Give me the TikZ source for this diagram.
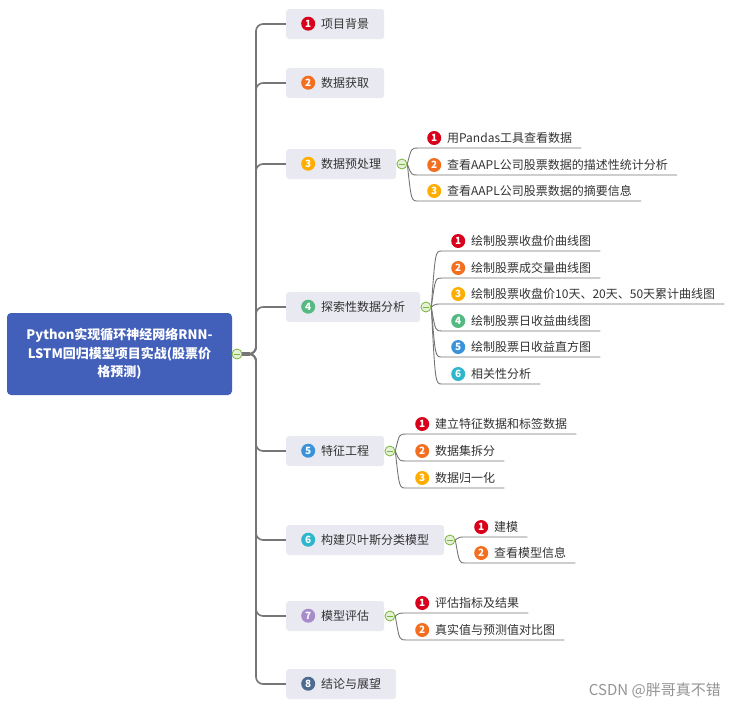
\documentclass[tikz,border=0pt]{standalone}
\usepackage{fontspec}
\setmainfont{Noto Sans CJK SC}
\usetikzlibrary{calc}
\pgfdeclarelayer{background}
\pgfsetlayers{background,main}
\definecolor{rootblue}{HTML}{425FBA}
\definecolor{boxbg}{HTML}{E9E9F2}
\definecolor{linegray}{HTML}{767676}
\definecolor{cgreen}{HTML}{7CB342}
\definecolor{cfill}{HTML}{E3F1D4}
\definecolor{txt}{HTML}{333333}
\definecolor{ba}{HTML}{D9001B}
\definecolor{bb}{HTML}{F36F1F}
\definecolor{bc}{HTML}{FFAD00}
\definecolor{bd}{HTML}{55B982}
\definecolor{be}{HTML}{3A92DA}
\definecolor{bf}{HTML}{2FB6CB}
\definecolor{bg}{HTML}{A78BCB}
\definecolor{bh}{HTML}{4E6A8E}
\newcommand\bdg[2]{\tikz[baseline=-4.3pt]\node[circle,fill=#1,draw=none,text=white,inner sep=0pt,outer sep=0pt,minimum size=14pt,anchor=center,text height=,text depth=,font=\fontsize{10}{10}\selectfont\bfseries]{#2};\hspace{6pt}}
\tikzset{
  mainbox/.style={fill=boxbg, rounded corners=3pt, minimum height=30pt, inner xsep=15pt, inner ysep=0pt, anchor=west, text height=10.5pt, text depth=2.5pt, text=txt, font=\fontsize{12}{14}\selectfont},
  leaf/.style={anchor=south west, inner xsep=9pt, inner ysep=4pt, text height=11.5pt, text depth=1.5pt, text=txt, font=\fontsize{12}{14}\selectfont},
  rootbox/.style={fill=rootblue, rounded corners=4pt, minimum width=225pt, minimum height=82pt, align=center, text=white, font=\fontsize{13}{18.5}\selectfont\bfseries},
  collapse/.style={circle, draw=cgreen, fill=cfill, line width=0.8pt, minimum size=10pt, inner sep=0pt,
    path picture={\draw[cgreen, line width=0.9pt] ([xshift=-2.6pt]path picture bounding box.center) -- ([xshift=2.6pt]path picture bounding box.center);}},
  trunk/.style={draw=linegray, line width=1.6pt, rounded corners=7pt},
  link/.style={draw=linegray, line width=0.9pt},
}
\begin{document}
\begin{tikzpicture}[x=1pt,y=-1pt]
\useasboundingbox (0,0) rectangle (733,710);
% root
\node[rootbox] (root) at (119.5,354) {Python实现循环神经网络RNN-\\LSTM回归模型项目实战(股票价\\格预测)};
\node[collapse] (rc) at (237,354) {};
\coordinate (jn) at (256,354);
% main topics
\node[mainbox] (m1) at (286,24) {\bdg{ba}{1}项目背景};
\node[mainbox] (m2) at (286,83) {\bdg{bb}{2}数据获取};
\node[mainbox] (m3) at (286,164) {\bdg{bc}{3}数据预处理};
\node[mainbox] (m4) at (286,307) {\bdg{bd}{4}探索性数据分析};
\node[mainbox] (m5) at (286,451) {\bdg{be}{5}特征工程};
\node[mainbox] (m6) at (286,540) {\bdg{bf}{6}构建贝叶斯分类模型};
\node[mainbox] (m7) at (286,616) {\bdg{bg}{7}模型评估};
\node[mainbox] (m8) at (286,684) {\bdg{bh}{8}结论与展望};
% collapse buttons
\node[collapse] (c3) at ($(m3.east)+(5.5,0)$) {};
\node[collapse] (c4) at ($(m4.east)+(5.5,0)$) {};
\node[collapse] (c5) at ($(m5.east)+(5.5,0)$) {};
\node[collapse] (c6) at ($(m6.east)+(5.5,0)$) {};
\node[collapse] (c7) at ($(m7.east)+(5.5,0)$) {};
% leaves group 3
\node[leaf] (k31) at (418,148) {\bdg{ba}{1}用Pandas工具查看数据};
\node[leaf] (k32) at (418,175) {\bdg{bb}{2}查看AAPL公司股票数据的描述性统计分析};
\node[leaf] (k33) at (418,201) {\bdg{bc}{3}查看AAPL公司股票数据的摘要信息};
% group 4
\node[leaf] (k41) at (442,251) {\bdg{ba}{1}绘制股票收盘价曲线图};
\node[leaf] (k42) at (442,278) {\bdg{bb}{2}绘制股票成交量曲线图};
\node[leaf] (k43) at (442,304) {\bdg{bc}{3}绘制股票收盘价10天、20天、50天累计曲线图};
\node[leaf] (k44) at (442,331) {\bdg{bd}{4}绘制股票日收益曲线图};
\node[leaf] (k45) at (442,357) {\bdg{be}{5}绘制股票日收益直方图};
\node[leaf] (k46) at (442,384) {\bdg{bf}{6}相关性分析};
% group 5
\node[leaf] (k51) at (406,434) {\bdg{ba}{1}建立特征数据和标签数据};
\node[leaf] (k52) at (406,461) {\bdg{bb}{2}数据集拆分};
\node[leaf] (k53) at (406,488) {\bdg{bc}{3}数据归一化};
% group 6
\node[leaf] (k61) at (465,537) {\bdg{ba}{1}建模};
\node[leaf] (k62) at (465,563) {\bdg{bb}{2}查看模型信息};
% group 7
\node[leaf] (k71) at (406,613) {\bdg{ba}{1}评估指标及结果};
\node[leaf] (k72) at (406,640) {\bdg{bb}{2}真实值与预测值对比图};
% watermark
\node[anchor=east, inner sep=0pt, text=black!42, font=\fontsize{15}{15}\selectfont] (wm) at (721,690) {CSDN @胖哥真不错};
\begin{pgfonlayer}{background}
  \fill[white] (0,0) rectangle (733,710);
  \draw[draw=linegray, line width=3.6pt] (rc.east) -- ($(jn)+(-6,0)$);
  \foreach \i in {1,...,8} {\draw[trunk] (rc.east) -- (jn) |- (m\i.west);}
  \foreach \g/\k in {3/31,3/32,3/33,4/41,4/42,4/43,4/44,4/45,4/46,5/51,5/52,5/53,6/61,6/62,7/71,7/72} {
    \draw[link] (c\g.east) .. controls ($(c\g.east |- k\k.south west)+(4,0)$) .. (k\k.south west) -- (k\k.south east);
  }
\end{pgfonlayer}
\end{tikzpicture}
\end{document}
